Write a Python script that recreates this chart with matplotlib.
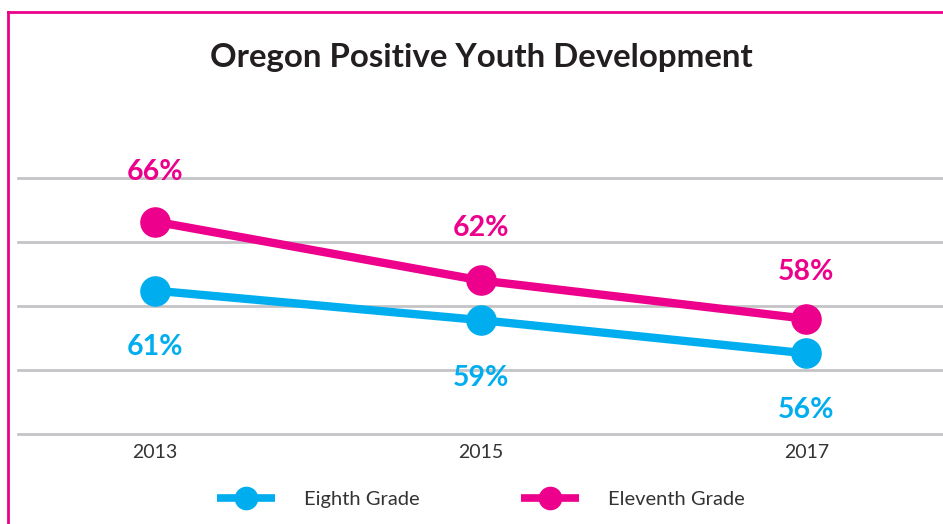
import matplotlib.pyplot as plt
from matplotlib.lines import Line2D

years = ['2013', '2015', '2017']
# plotted positions (percent)
eleventh = [66.6, 62.0, 59.0]
eighth = [61.2, 58.9, 56.3]
eleventh_labels = ['66%', '62%', '58%']
eighth_labels = ['61%', '59%', '56%']
grid_vals = [50, 55, 60, 65, 70]

PINK = '#ec008c'
BLUE = '#00aeef'
GRID = '#c4c4c8'
W, H = 943, 524

plt.rcParams['font.family'] = ['Lato', 'DejaVu Sans']

fig = plt.figure(figsize=(W / 100, H / 100), dpi=100)
ax = fig.add_axes([18 / W, (H - 434) / H, 925 / W, 256 / H])

x = list(range(len(years)))
ax.plot(x, eighth, color=BLUE, lw=6, marker='o', ms=21, solid_capstyle='butt', zorder=3)
ax.plot(x, eleventh, color=PINK, lw=6, marker='o', ms=21, solid_capstyle='butt', zorder=3)

for i, lab in enumerate(eleventh_labels):
    ax.annotate(lab, (x[i], eleventh[i]), xytext=(0, [36, 37.5, 34][i]), textcoords='offset points',
                ha='center', va='center', color=PINK, fontsize=20.5, fontweight='bold')
for i, lab in enumerate(eighth_labels):
    ax.annotate(lab, (x[i], eighth[i]), xytext=(0, [-40.5, -41.5, -41][i]), textcoords='offset points',
                ha='center', va='center', color=BLUE, fontsize=20.5, fontweight='bold')

ax.set_xlim(-0.42, 2.42)
ax.set_ylim(grid_vals[0], grid_vals[-1])
ax.set_yticks(grid_vals)
ax.set_yticklabels([])
ax.set_xticks(x)
ax.set_xticklabels(years, fontsize=14, color='#333333')
ax.tick_params(length=0, pad=7)
ax.grid(axis='y', color=GRID, lw=2)
ax.grid(axis='x', visible=False)
for gl in ax.get_ygridlines():
    gl.set_clip_on(False)
for s in ax.spines.values():
    s.set_visible(False)
ax.set_axisbelow(True)

fig.text(481 / W, 1 - 57 / H, 'Oregon Positive Youth Development', ha='center', va='center',
         fontsize=23.8, fontweight='bold', color='#231f20')

# pink frame (left and top edges)
fig.add_artist(Line2D([8 / W, 8 / W], [0, 1 - 11.5 / H], color=PINK, lw=2))
fig.add_artist(Line2D([8 / W, 1], [1 - 11.5 / H, 1 - 11.5 / H], color=PINK, lw=2))

handles = [Line2D([], [], color=BLUE, lw=5.5, marker='o', ms=16, solid_capstyle='butt'),
           Line2D([], [], color=PINK, lw=5.5, marker='o', ms=16, solid_capstyle='butt')]
fig.legend(handles, ['Eighth Grade', 'Eleventh Grade'], loc='center', bbox_to_anchor=(481 / W, 1 - 499 / H),
           ncol=2, frameon=False, fontsize=14.5, handlelength=2.9, handletextpad=1.45, columnspacing=5.0,
           labelcolor='#333333')

fig.savefig('out.png', dpi=100)
